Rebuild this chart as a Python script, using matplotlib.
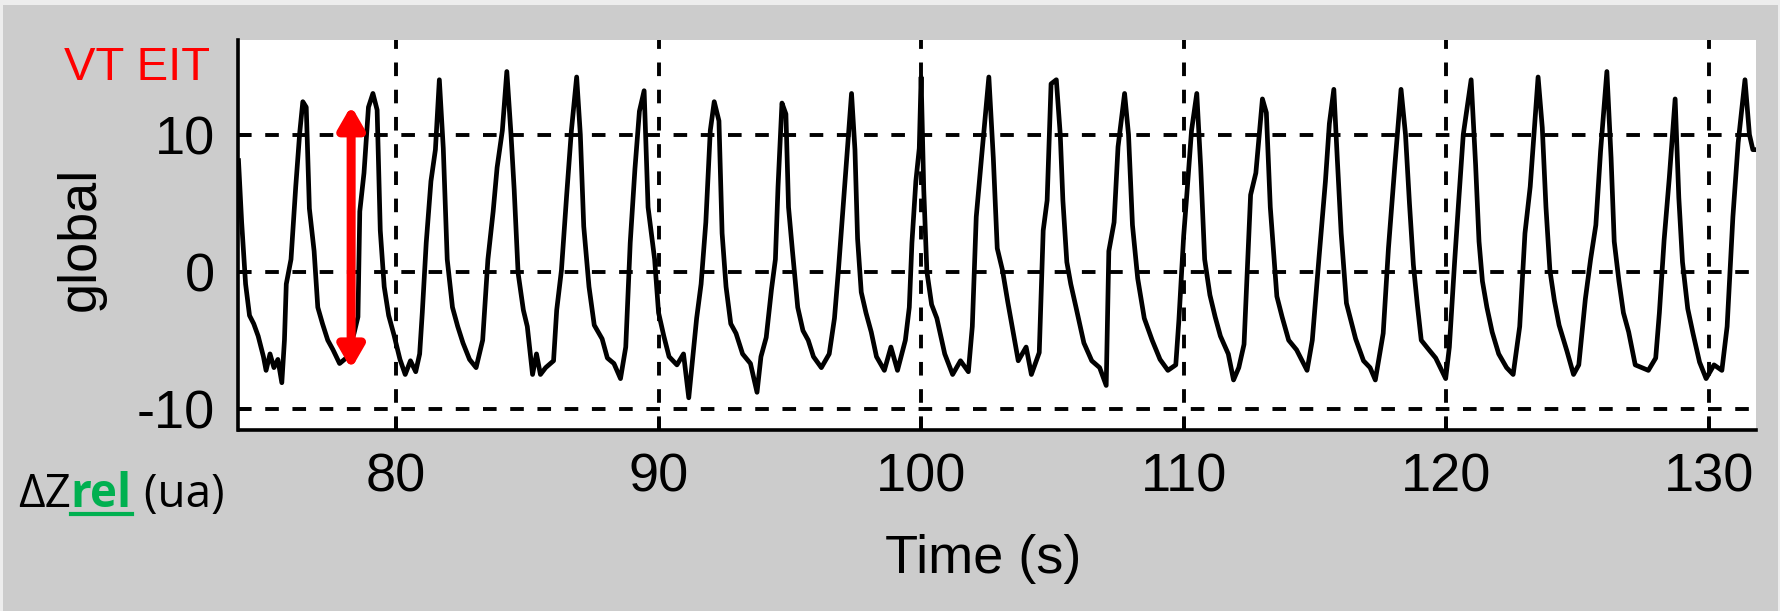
import matplotlib
matplotlib.use('Agg')
import matplotlib.pyplot as plt
from matplotlib import font_manager
from matplotlib.lines import Line2D
from matplotlib.patches import Rectangle

# global EIT impedance trace (time s, dZ ua)
t_s = [74.00, 74.12, 74.27, 74.42, 74.58, 74.75, 74.95, 75.05, 75.20, 75.35, 75.50, 75.65,
       75.75, 75.82, 76.00, 76.18, 76.33, 76.45, 76.58, 76.70, 76.88, 77.02, 77.20, 77.40,
       77.60, 77.85, 78.10, 78.40, 78.55, 78.62, 78.78, 78.95, 79.12, 79.28, 79.40, 79.55,
       79.72, 79.92, 80.15, 80.35, 80.55, 80.75, 80.90, 81.00, 81.15, 81.33, 81.50, 81.65,
       81.80, 81.95, 82.15, 82.35, 82.55, 82.80, 83.05, 83.30, 83.50, 83.70, 83.85, 84.05,
       84.22, 84.38, 84.50, 84.65, 84.85, 85.00, 85.20, 85.35, 85.50, 85.70, 86.00, 86.12,
       86.30, 86.50, 86.68, 86.88, 87.02, 87.15, 87.35, 87.55, 87.85, 88.05, 88.30, 88.55,
       88.75, 88.92, 89.10, 89.27, 89.45, 89.60, 89.85, 90.00, 90.20, 90.40, 90.70, 90.95,
       91.15, 91.30, 91.45, 91.62, 91.80, 91.97, 92.12, 92.30, 92.42, 92.57, 92.75, 92.95,
       93.20, 93.50, 93.75, 93.90, 94.10, 94.30, 94.45, 94.55, 94.70, 94.85, 94.95, 95.10,
       95.30, 95.50, 95.70, 95.90, 96.20, 96.50, 96.70, 96.85, 97.00, 97.15, 97.35, 97.48,
       97.58, 97.72, 97.90, 98.10, 98.30, 98.60, 98.85, 99.10, 99.40, 99.55, 99.65, 99.80,
       99.93, 100.00, 100.10, 100.22, 100.40, 100.60, 100.90, 101.20, 101.50, 101.80, 101.95, 102.10,
       102.30, 102.58, 102.75, 102.90, 103.10, 103.30, 103.45, 103.70, 104.00, 104.20, 104.50, 104.65,
       104.80, 104.95, 105.15, 105.30, 105.40, 105.55, 105.70, 105.90, 106.20, 106.50, 106.80, 107.05,
       107.15, 107.35, 107.50, 107.75, 107.90, 108.05, 108.25, 108.50, 108.80, 109.10, 109.40, 109.70,
       109.82, 110.00, 110.12, 110.30, 110.50, 110.65, 110.80, 111.00, 111.20, 111.40, 111.70, 111.90,
       112.10, 112.30, 112.55, 112.75, 113.00, 113.15, 113.30, 113.55, 113.75, 114.00, 114.30, 114.70,
       114.90, 115.15, 115.40, 115.55, 115.72, 115.85, 116.00, 116.20, 116.55, 116.85, 117.10, 117.30,
       117.60, 117.80, 118.05, 118.28, 118.45, 118.60, 118.75, 118.90, 119.05, 119.30, 119.60, 119.98,
       120.12, 120.32, 120.47, 120.65, 120.95, 121.12, 121.25, 121.38, 121.55, 121.75, 122.00, 122.30,
       122.55, 122.80, 123.00, 123.20, 123.50, 123.66, 123.80, 123.95, 124.12, 124.30, 124.60, 124.85,
       125.05, 125.30, 125.50, 125.70, 125.88, 126.12, 126.28, 126.40, 126.58, 126.75, 126.95, 127.20,
       127.45, 127.70, 127.98, 128.12, 128.30, 128.50, 128.72, 128.86, 129.00, 129.20, 129.40, 129.65,
       129.90, 130.20, 130.50, 130.70, 130.92, 131.12, 131.38, 131.55, 131.68, 131.80]
z_glob = [8.1, 3.6, -0.9, -3.2, -3.8, -4.7, -6.2, -7.2, -6.0, -7.0, -6.4, -8.1,
          -5.0, -0.9, 0.9, 6.2, 10.1, 12.4, 12.0, 4.6, 1.5, -2.6, -3.8, -5.0,
          -5.7, -6.7, -6.3, -4.5, -3.3, 4.4, 7.2, 12.0, 13.0, 11.8, 3.0, -1.1,
          -3.2, -4.6, -6.4, -7.5, -6.5, -7.3, -6.0, -3.0, 2.1, 6.6, 8.9, 14.0,
          9.0, 0.9, -2.6, -4.0, -5.2, -6.4, -7.0, -5.0, 0.9, 4.4, 7.6, 10.3,
          14.6, 10.0, 6.0, -0.1, -2.8, -4.0, -7.5, -6.0, -7.5, -7.0, -6.5, -2.8,
          0.1, 5.6, 10.3, 14.2, 10.0, 3.3, -1.1, -3.9, -4.9, -6.3, -6.7, -7.8,
          -5.5, 2.1, 7.5, 11.7, 13.2, 4.7, 0.9, -3.0, -4.7, -6.2, -6.8, -6.0,
          -9.2, -6.3, -3.4, -0.9, 3.6, 10.3, 12.4, 11.0, 2.8, -1.1, -3.8, -4.5,
          -6.0, -6.7, -8.8, -6.2, -4.8, -1.3, 0.9, 6.2, 12.3, 11.5, 4.7, 1.5,
          -2.6, -4.3, -5.0, -6.2, -7.0, -6.0, -3.4, 0.1, 4.0, 7.8, 13.0, 8.9,
          2.4, -1.5, -3.0, -4.4, -6.2, -7.2, -5.5, -7.2, -5.0, -2.6, 2.1, 6.6,
          9.0, 14.2, 6.0, 0.0, -2.4, -3.4, -6.0, -7.5, -6.5, -7.3, -4.0, 4.0,
          8.3, 14.2, 8.3, 1.7, 0.1, -2.2, -3.8, -6.5, -5.5, -7.5, -5.9, 3.0,
          5.2, 13.7, 14.0, 10.0, 5.2, 0.7, -0.9, -2.6, -5.2, -6.5, -7.0, -8.3,
          1.5, 3.6, 9.1, 13.0, 10.0, 3.4, -0.5, -3.4, -5.0, -6.4, -7.2, -6.8,
          -3.5, 2.6, 5.6, 10.3, 13.0, 7.6, 0.9, -1.7, -3.3, -4.7, -6.0, -7.9,
          -7.0, -5.3, 5.6, 7.2, 12.6, 11.6, 4.7, -1.8, -3.3, -5.0, -5.7, -7.2,
          -5.0, 0.9, 6.6, 10.8, 13.3, 8.3, 2.8, -2.3, -4.9, -6.5, -7.0, -7.9,
          -4.5, 1.7, 7.9, 13.3, 10.0, 5.0, 0.5, -2.4, -5.0, -5.6, -6.3, -7.8,
          -5.5, 0.7, 5.0, 10.0, 14.0, 7.8, 2.2, -0.7, -2.6, -4.4, -6.0, -7.0,
          -7.5, -4.0, 2.8, 6.2, 14.2, 10.5, 4.7, 0.1, -2.1, -3.9, -5.8, -7.5,
          -6.8, -2.0, 0.9, 3.4, 8.8, 14.6, 8.3, 2.2, -0.7, -3.0, -4.4, -6.8,
          -7.0, -7.2, -6.3, -3.0, 2.3, 6.9, 12.6, 5.4, 0.7, -2.7, -4.5, -6.6,
          -7.8, -6.8, -7.2, -4.0, 4.0, 9.4, 14.0, 10.0, 8.9, 8.9]

x_ticks = [80, 90, 100, 110, 120, 130]
y_ticks = [-10, 0, 10]

# VT EIT arrow over one breath
vt_t = 78.29
vt_lo, vt_hi = -7.1, 12.1

W, H = 1781, 611
names = {f.name for f in font_manager.fontManager.ttflist}
if 'Liberation Sans Narrow' in names:
    main_font, fs, fs_vt = 'Liberation Sans Narrow', 43, 37
else:
    main_font, fs, fs_vt = 'Liberation Sans', 39, 34
plt.rcParams['font.family'] = [main_font, 'DejaVu Sans']
plt.rcParams['axes.unicode_minus'] = False

fig = plt.figure(figsize=(W / 100, H / 100), dpi=100, facecolor='#cccccc')
# light frame of the screen capture
fig.add_artist(Rectangle((0, 1 - 5 / H), 1, 5 / H, transform=fig.transFigure, color='#ededed', lw=0))
fig.add_artist(Rectangle((0, 0), 3 / W, 1, transform=fig.transFigure, color='#ededed', lw=0))
fig.add_artist(Rectangle((1 - 3 / W, 0), 3 / W, 1, transform=fig.transFigure, color='#ededed', lw=0))

ax = fig.add_axes([238.5 / W, 1 - 430 / H, (1756 - 238.5) / W, 390 / H])
ax.set_facecolor('white')
ax.plot(t_s, z_glob, color='black', lw=3.4, zorder=3)

ax.set_xlim(74.0, 131.8)
ax.set_ylim(-11.55, 16.9)
ax.set_xticks(x_ticks)
ax.set_yticks(y_ticks)
ax.grid(True, color='black', linestyle=(0, (3.5, 3.5)), linewidth=2.8)
ax.set_axisbelow(True)

for side in ['top', 'right']:
    ax.spines[side].set_visible(False)
for side in ['left', 'bottom']:
    ax.spines[side].set_linewidth(2.6)
ax.tick_params(direction='in', length=9, width=2.6, labelsize=fs, top=False, right=False)
ax.tick_params(axis='x', pad=16)
ax.tick_params(axis='y', pad=17)

ax.set_xlabel('Time (s)', fontsize=fs, va='baseline')
ax.xaxis.set_label_coords(0.4906, -0.3667)
ax.set_ylabel('global', fontsize=fs)
ax.yaxis.set_label_coords(-0.0873, 0.49)

ax.annotate('', xy=(vt_t, vt_hi), xytext=(vt_t, vt_lo),
            arrowprops=dict(arrowstyle='<|-|>,head_length=13,head_width=7.5',
                            color='red', lw=6.5, shrinkA=0, shrinkB=0, mutation_scale=1),
            zorder=4)

fig.text(210 / W, 1 - 80 / H, 'VT EIT', color='red', fontsize=fs_vt, ha='right', va='baseline')

# "ΔZrel (ua)" with underlined green "rel"
yb = 1 - 507 / H
lab_font = ['Open Sans', 'DejaVu Sans']
green = '#00b050'
t1 = fig.text(18 / W, yb, 'ΔZ', fontsize=33, family=lab_font, va='baseline')
fig.canvas.draw()
r = fig.canvas.get_renderer()
bb1 = t1.get_window_extent(r)
t2 = fig.text(bb1.x1 / W, yb, 'rel', fontsize=33, family=lab_font, weight='bold',
              color=green, va='baseline')
bb2 = t2.get_window_extent(r)
fig.add_artist(Line2D([bb2.x0 / W, bb2.x1 / W], [1 - 514 / H, 1 - 514 / H],
                      transform=fig.transFigure, color=green, lw=3))
fig.text(bb2.x1 / W, yb, ' (ua)', fontsize=33, family=lab_font, va='baseline')

fig.savefig('out.png', dpi=100, facecolor=fig.get_facecolor())
